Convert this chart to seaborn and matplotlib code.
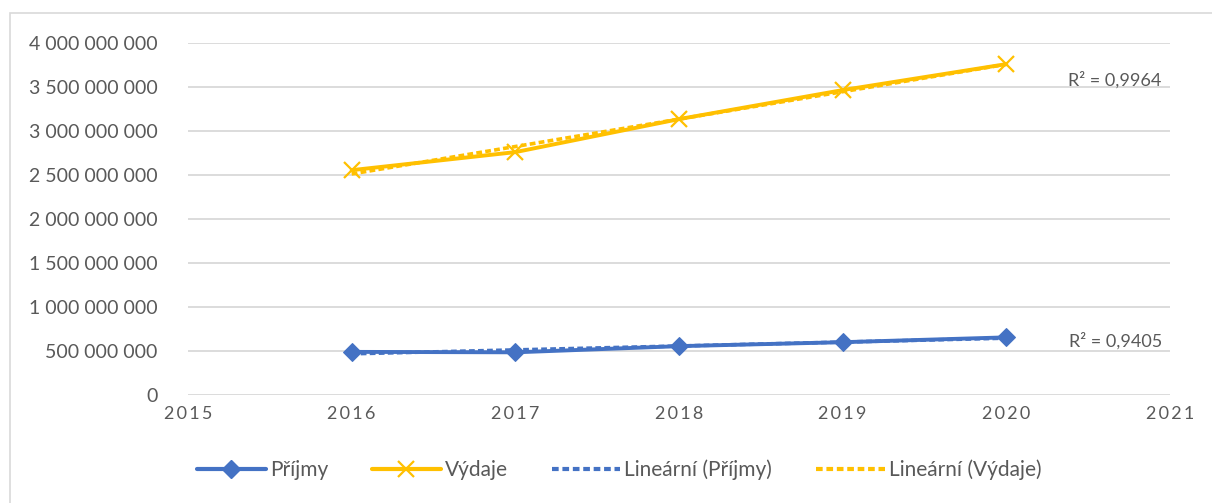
import numpy as np
import pandas as pd
import matplotlib
matplotlib.use("Agg")
import matplotlib.pyplot as plt
import seaborn as sns
from matplotlib.lines import Line2D
from matplotlib.patches import Rectangle

# data
years = [2016, 2017, 2018, 2019, 2020]
prijmy = [490_000_000, 485_000_000, 555_000_000, 600_000_000, 655_000_000]
vydaje = [2_555_000_000, 2_760_000_000, 3_135_000_000, 3_465_000_000, 3_760_000_000]
r2_labels = ["R² = 0,9405", "R² = 0,9964"]
legend_labels = ["Příjmy", "Výdaje", "Lineární (Příjmy)", "Lineární (Výdaje)"]

BLUE = "#4472C4"
GOLD = "#FFC000"
GREY = "#595959"
GRID = "#D9D9D9"
DASH = (0, (1.6, 0.9))

sns.set_style("white")
plt.rcParams["font.family"] = ["Lato", "DejaVu Sans"]

df = pd.DataFrame({"rok": years, "Příjmy": prijmy, "Výdaje": vydaje})

fig = plt.figure(figsize=(12.12, 5.03), dpi=100)
ax = fig.add_axes([188 / 1212, 1 - 395 / 503, (1170 - 188) / 1212, (395 - 43) / 503])

sns.lineplot(data=df, x="rok", y="Příjmy", ax=ax, color=BLUE, lw=2.8,
             marker="D", markersize=9, markeredgecolor=BLUE, zorder=3)
sns.lineplot(data=df, x="rok", y="Výdaje", ax=ax, color=GOLD, lw=2.8,
             marker="x", markersize=11, markeredgewidth=1.6,
             markeredgecolor=GOLD, zorder=3)

# linear trend lines
sns.regplot(data=df, x="rok", y="Příjmy", ax=ax, scatter=False, ci=None,
            line_kws=dict(color=BLUE, lw=2.6, ls=DASH, zorder=4))
sns.regplot(data=df, x="rok", y="Výdaje", ax=ax, scatter=False, ci=None,
            line_kws=dict(color=GOLD, lw=2.6, ls=DASH, zorder=4))

ax.set_xlim(2015, 2021)
ax.set_ylim(0, 4_000_000_000)
ax.set_yticks(np.arange(0, 4_000_000_001, 500_000_000))
ax.yaxis.set_major_formatter(lambda v, p: f"{int(v):,}".replace(",", " "))
ax.set_xticks(range(2015, 2022))
ax.set_xticklabels(["\u2009".join(str(y)) for y in range(2015, 2022)])
ax.grid(axis="y", color=GRID, lw=1.3)
ax.set_axisbelow(True)
for s in ax.spines.values():
    s.set_visible(False)
ax.tick_params(axis="y", length=0, pad=22, labelsize=14, labelcolor=GREY)
ax.tick_params(axis="x", length=0, pad=8, labelsize=13, labelcolor=GREY)
ax.set_xlabel("")
ax.set_ylabel("")

ax.text(2020.95, prijmy[-1] - 35_000_000, r2_labels[0], ha="right", va="center",
        fontsize=13, color=GREY)
ax.text(2020.95, vydaje[-1] - 185_000_000, r2_labels[1], ha="right", va="center",
        fontsize=13, color=GREY)

handles = [
    Line2D([], [], color=BLUE, lw=3, marker="D", markersize=9),
    Line2D([], [], color=GOLD, lw=3, marker="x", markersize=11, markeredgewidth=1.6),
    Line2D([], [], color=BLUE, lw=3, ls=DASH),
    Line2D([], [], color=GOLD, lw=3, ls=DASH),
]
fig.legend(handles, legend_labels, loc="center", bbox_to_anchor=(0.511, 0.066),
           ncol=4, frameon=False, fontsize=15, labelcolor=GREY,
           handlelength=3.3, handletextpad=0.2, columnspacing=2.1)

# light chart border like in Excel
fig.add_artist(Rectangle((10 / 1212, -0.1), 1.2, 1 - 13 / 503 + 0.1,
                         transform=fig.transFigure, fill=False,
                         edgecolor=GRID, lw=1.2))

fig.savefig("out.png", dpi=100)
